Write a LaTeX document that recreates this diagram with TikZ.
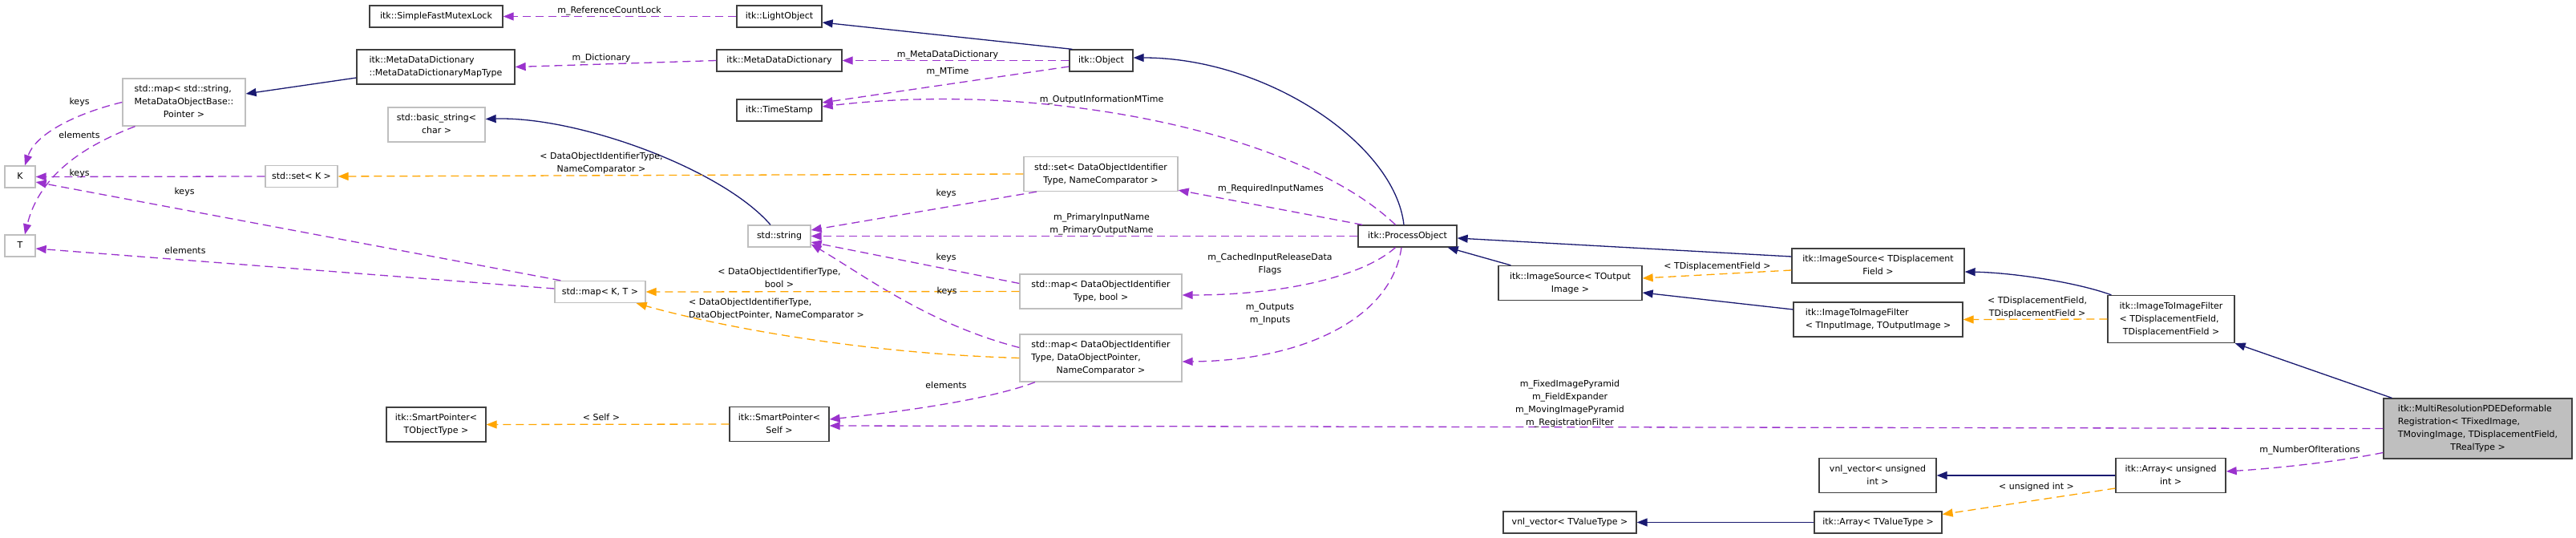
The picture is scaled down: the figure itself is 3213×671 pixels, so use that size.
\documentclass[tikz,border=0pt]{standalone}
\usepackage{fontspec}
\setmainfont{DejaVu Sans}
\usetikzlibrary{arrows.meta}
\definecolor{edgepurple}{HTML}{9A32CD}
\definecolor{edgeblue}{HTML}{191970}
\definecolor{edgeorange}{HTML}{FFA500}
\definecolor{boxdark}{HTML}{404040}
\definecolor{boxlight}{HTML}{BFBFBF}
\definecolor{boxfocus}{HTML}{BFBFBF}
% class text: left lines, last line centred
\newcommand{\ltxt}[1]{\begin{tabular}{@{}l@{}}#1\end{tabular}}
\newcommand{\ctxt}[1]{\begin{tabular}{@{}c@{}}#1\end{tabular}}
\newcommand{\lastln}[1]{\multicolumn{1}{@{}c@{}}{#1}}
\tikzset{
  cls/.style={
    draw=boxdark, fill=white, line width=1.3pt,
    inner xsep=0pt, inner ysep=5.5pt, minimum height=27pt
  },
  ext/.style={cls, draw=boxlight},
  focus/.style={cls, fill=boxfocus},
  inh/.style={-{Triangle[length=13pt,width=10pt]}, draw=edgeblue, line width=1.3pt},
  mem/.style={inh, draw=edgepurple, dash pattern=on 10pt off 6pt},
  tpl/.style={mem, draw=edgeorange},
  lbl/.style={inner sep=0pt}
}
\begin{document}
\begin{tikzpicture}[x=1pt, y=-1pt, font=\fontsize{11}{16}\selectfont]
  \useasboundingbox (0,0) rectangle (3213,671);
  % classes
  \node[cls, minimum width=166pt] (mutex) at (544,20.5) {\ltxt{itk::SimpleFastMutexLock}};
  \node[cls, minimum width=197pt] (mddmap) at (543.5,83.5) {\ltxt{itk::MetaDataDictionary\\::MetaDataDictionaryMapType}};
  \node[ext, minimum width=153pt] (mapstr) at (229.5,127.5) {\ltxt{std::map< std::string,\\MetaDataObjectBase::\\\lastln{Pointer >}}};
  \node[ext, minimum width=121pt] (bstr) at (544.5,155.5) {\ltxt{std::basic\_string<\\\lastln{char >}}};
  \node[ext, minimum width=38pt] (tplK) at (25,220.5) {\ltxt{K}};
  \node[ext, minimum width=90pt] (setk) at (376,220) {\ltxt{std::set< K >}};
  \node[ext, minimum width=38pt] (tplT) at (25,306.5) {\ltxt{T}};
  \node[ext, minimum width=113pt] (mapkt) at (748.5,364) {\ltxt{std::map< K, T >}};
  \node[cls, minimum width=124pt] (spobj) at (544,529.5) {\ltxt{itk::SmartPointer<\\\lastln{TObjectType >}}};
  \node[cls, minimum width=106pt] (lightobj) at (972,20.5) {\ltxt{itk::LightObject}};
  \node[cls, minimum width=156pt] (mdd) at (972,75.5) {\ltxt{itk::MetaDataDictionary}};
  \node[cls, minimum width=79pt] (object) at (1373.5,75.5) {\ltxt{itk::Object}};
  \node[cls, minimum width=106pt] (tstamp) at (972,137.5) {\ltxt{itk::TimeStamp}};
  \node[ext, minimum width=192pt] (setdoi) at (1373,217) {\ltxt{std::set< DataObjectIdentifier\\\lastln{Type, NameComparator >}}};
  \node[ext, minimum width=78pt] (string) at (972,294.5) {\ltxt{std::string}};
  \node[cls, minimum width=123pt] (procobj) at (1755.5,294.5) {\ltxt{itk::ProcessObject}};
  \node[ext, minimum width=202pt] (mapbool) at (1373,363.5) {\ltxt{std::map< DataObjectIdentifier\\\lastln{Type, bool >}}};
  \node[ext, minimum width=202pt] (mapdop) at (1373,446.5) {\ltxt{std::map< DataObjectIdentifier\\Type, DataObjectPointer,\\\lastln{NameComparator >}}};
  \node[cls, minimum width=124pt] (spself) at (972,529) {\ltxt{itk::SmartPointer<\\\lastln{Self >}}};
  \node[cls, minimum width=179pt] (srcout) at (1958.5,353) {\ltxt{itk::ImageSource< TOutput\\\lastln{Image >}}};
  \node[cls, minimum width=215pt] (srcdf) at (2342.5,331.5) {\ltxt{itk::ImageSource< TDisplacement\\\lastln{Field >}}};
  \node[cls, minimum width=211pt] (i2iio) at (2342.5,398.5) {\ltxt{itk::ImageToImageFilter\\< TInputImage, TOutputImage >}};
  \node[cls, minimum width=158pt] (i2idf) at (2708,398) {\ltxt{itk::ImageToImageFilter\\< TDisplacementField,\\\lastln{TDisplacementField >}}};
  \node[focus, minimum width=235pt] (mrreg) at (3090.5,534.5) {\ltxt{itk::MultiResolutionPDEDeformable\\Registration< TFixedImage,\\TMovingImage, TDisplacementField,\\\lastln{TRealType >}}};
  \node[cls, minimum width=146pt] (vnlui) at (2342,593) {\ltxt{vnl\_vector< unsigned\\\lastln{int >}}};
  \node[cls, minimum width=137pt] (arrui) at (2707.5,593) {\ltxt{itk::Array< unsigned\\\lastln{int >}}};
  \node[cls, minimum width=159pt] (arrtv) at (2342.5,651.5) {\ltxt{itk::Array< TValueType >}};
  \node[cls, minimum width=166pt] (vnltv) at (1958,651.5) {\ltxt{vnl\_vector< TValueType >}};

  % inheritance
  \draw[inh] ([yshift=-13.5pt]mddmap.west) -- ([yshift=10.5pt]mapstr.east);
  \draw[inh] ([xshift=-11pt]string.north) .. controls (900,210) and (720,145) .. ([yshift=7pt]bstr.east);
  \draw[inh] ([xshift=4pt]object.north west) -- ([yshift=-7.5pt]lightobj.east);
  \draw[inh] ([xshift=-4.5pt]procobj.north) .. controls (1740,180) and (1580,72) .. ([yshift=3.5pt]object.east);
  \draw[inh] ([xshift=16pt]srcout.north west) -- ([xshift=-12pt]procobj.south east);
  \draw[inh] ([yshift=11.5pt]srcdf.west) -- ([yshift=-2.5pt]procobj.east);
  \draw[inh] ([yshift=12.5pt]i2iio.west) -- ([yshift=-12pt]srcout.east);
  \draw[inh] ([xshift=5pt]i2idf.north west) .. controls (2590,352) and (2510,340) .. ([yshift=-7.5pt]srcdf.east);
  \draw[inh] ([xshift=11pt]mrreg.north west) -- (i2idf.south east);
  \draw[inh] (arrui.west) -- (vnlui.east);
  \draw[inh] (arrtv.west) -- (vnltv.east);

  % members
  \draw[mem] (lightobj.west) -- (mutex.east);
  \draw[mem] (mdd.west) -- (mddmap.east);
  \draw[mem] (mapstr.west) .. controls (100,140) and (45,165) .. ([xshift=6pt]tplK.north);
  \draw[mem] ([xshift=-61pt]mapstr.south) .. controls (110,180) and (50,215) .. ([xshift=6pt]tplT.north);
  \draw[mem] (setk.west) -- (tplK.east);
  \draw[mem] ([xshift=8pt]mapkt.north west) -- ([yshift=-6.5pt]tplK.east);
  \draw[mem] ([yshift=4pt]mapkt.west) -- ([yshift=-3.5pt]tplT.east);
  \draw[mem] ([xshift=-80pt]setdoi.south) -- ([yshift=7.5pt]string.east);
  \draw[mem] ([yshift=10pt]mapbool.west) -- ([yshift=-7.5pt]string.east);
  \draw[mem] ([yshift=13pt]mapdop.west) .. controls (1160,405) and (1080,345) .. ([yshift=-10pt]string.east);
  \draw[mem] ([xshift=-82pt]mapdop.south) .. controls (1230,500) and (1110,515) .. ([yshift=6pt]spself.east);
  \draw[mem] (object.west) -- (mdd.east);
  \draw[mem] ([yshift=-7.5pt]object.west) -- ([yshift=9.5pt]tstamp.east);
  \draw[mem] ([xshift=-15pt]procobj.north) .. controls (1620,165) and (1300,100) .. ([yshift=4.5pt]tstamp.east);
  \draw[mem] ([xshift=6pt]procobj.north west) -- ([yshift=2pt]setdoi.south east);
  \draw[mem] (procobj.west) -- (string.east);
  \draw[mem] ([xshift=-15pt]procobj.south) .. controls (1700,345) and (1600,368) .. ([yshift=-4.5pt]mapbool.east);
  \draw[mem] ([xshift=-7.5pt]procobj.south) .. controls (1735,400) and (1620,450) .. ([yshift=-4.5pt]mapdop.east);
  \draw[mem] (mrreg.west) -- ([yshift=-2pt]spself.east);
  \draw[mem] ([yshift=-30pt]mrreg.west) .. controls (2915,576) and (2840,584) .. ([yshift=5pt]arrui.east);

  % template instances
  \draw[tpl] (setdoi.west) -- (setk.east);
  \draw[tpl] (mapbool.west) -- (mapkt.east);
  \draw[tpl] (mapdop.west) .. controls (1050,440) and (870,400) .. ([xshift=-12pt]mapkt.south east);
  \draw[tpl] (spself.west) -- (spobj.east);
  \draw[tpl] ([yshift=-5.5pt]srcdf.west) -- ([yshift=6pt]srcout.east);
  \draw[tpl] (i2idf.west) -- (i2iio.east);
  \draw[tpl] ([yshift=-16pt]arrui.west) -- ([yshift=10pt]arrtv.east);

  % labels
  \node[lbl] (lRefLock) at (760,13) {\ctxt{m\_ReferenceCountLock}};
  \node[lbl] (lDict) at (750,72) {\ctxt{m\_Dictionary}};
  \node[lbl] (lKeysA) at (99,127) {\ctxt{keys}};
  \node[lbl] (lElemA) at (99,169) {\ctxt{elements}};
  \node[lbl] (lKeysB) at (99,216) {\ctxt{keys}};
  \node[lbl] (lKeysC) at (230,239) {\ctxt{keys}};
  \node[lbl] (lElemB) at (231,313) {\ctxt{elements}};
  \node[lbl] (lSetDoi) at (750,203.5) {\ctxt{< DataObjectIdentifierType,\\NameComparator >}};
  \node[lbl] (lMdd) at (1182,68) {\ctxt{m\_MetaDataDictionary}};
  \node[lbl] (lMTime) at (1182,89) {\ctxt{m\_MTime}};
  \node[lbl] (lOutInfo) at (1374,124) {\ctxt{m\_OutputInformationMTime}};
  \node[lbl] (lKeysD) at (1180,241) {\ctxt{keys}};
  \node[lbl] (lReqIn) at (1585,235) {\ctxt{m\_RequiredInputNames}};
  \node[lbl] (lPrim) at (1374,279) {\ctxt{m\_PrimaryInputName\\m\_PrimaryOutputName}};
  \node[lbl] (lKeysE) at (1180,321) {\ctxt{keys}};
  \node[lbl] (lCached) at (1584,329) {\ctxt{m\_CachedInputReleaseData\\Flags}};
  \node[lbl] (lBool) at (972,347.5) {\ctxt{< DataObjectIdentifierType,\\bool >}};
  \node[lbl] (lKeysF) at (1181,363) {\ctxt{keys}};
  \node[lbl, anchor=west] (lDop) at (859,385) {\ltxt{< DataObjectIdentifierType,\\DataObjectPointer, NameComparator >}};
  \node[lbl] (lOutputs) at (1584,391) {\ctxt{m\_Outputs\\m\_Inputs}};
  \node[lbl] (lElemC) at (1180,481) {\ctxt{elements}};
  \node[lbl] (lSelf) at (750,521) {\ctxt{< Self >}};
  \node[lbl] (lTdf) at (2142,332) {\ctxt{< TDisplacementField >}};
  \node[lbl] (lFilters) at (1958,503) {\ctxt{m\_FixedImagePyramid\\m\_FieldExpander\\m\_MovingImagePyramid\\m\_RegistrationFilter}};
  \node[lbl] (lTdfTdf) at (2541,383) {\ctxt{< TDisplacementField,\\TDisplacementField >}};
  \node[lbl] (lNumIt) at (2881,561) {\ctxt{m\_NumberOfIterations}};
  \node[lbl] (lUint) at (2540,607) {\ctxt{< unsigned int >}};
\end{tikzpicture}
\end{document}
